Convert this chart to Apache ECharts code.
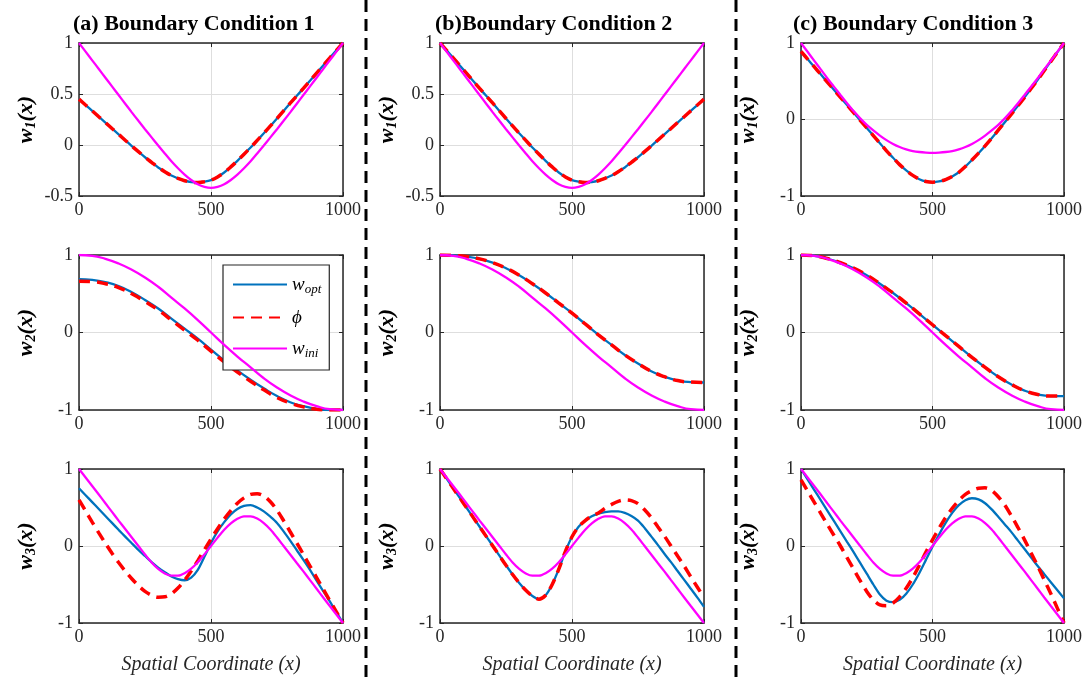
<!DOCTYPE html>
<html>
<head>
<meta charset="utf-8">
<script src="https://cdn.jsdelivr.net/npm/echarts@6/dist/echarts.min.js"></script>
<style>
  html, body { margin: 0; padding: 0; background: #fff; }
  #chart { width: 1090px; height: 684px; }
</style>
</head>
<body>
<div id="chart"></div>
<script>
// Spatial coordinate samples: fine grid for w1 and w3, coarse grid for w2
const xsFine = [0, 25, 50, 75, 100, 125, 150, 175, 200, 225, 250, 275, 300, 325, 350, 375, 400, 425, 450, 475, 500,
  525, 550, 575, 600, 625, 650, 675, 700, 725, 750, 775, 800, 825, 850, 875, 900, 925, 950, 975, 1000];
const xsCoarse = [0, 50, 100, 150, 200, 250, 300, 350, 400, 450, 500, 550, 600, 650, 700, 750, 800, 850, 900, 950, 1000];
const xTicks = [0, 500, 1000];

// Row 1: w1(x)
const optW1A = [0.45, 0.392, 0.335, 0.277, 0.22, 0.162, 0.105, 0.047, -0.01, -0.065, -0.12, -0.17, -0.22, -0.262, -0.30, -0.328, -0.35, -0.364, -0.368, -0.36, -0.345,
  -0.313, -0.27, -0.215, -0.155, -0.09, -0.025, 0.045, 0.115, 0.187, 0.26, 0.335, 0.41, 0.482, 0.555, 0.63, 0.705, 0.78, 0.855, 0.928, 1.0];
const phiW1A = [0.45, 0.392, 0.335, 0.277, 0.22, 0.162, 0.105, 0.047, -0.01, -0.065, -0.12, -0.17, -0.22, -0.262, -0.30, -0.328, -0.35, -0.364, -0.368, -0.36, -0.345,
  -0.313, -0.27, -0.215, -0.155, -0.09, -0.025, 0.045, 0.115, 0.187, 0.26, 0.335, 0.41, 0.482, 0.555, 0.63, 0.705, 0.78, 0.855, 0.928, 1.0];
const optW1B = [1.0, 0.928, 0.855, 0.78, 0.705, 0.63, 0.555, 0.482, 0.41, 0.335, 0.26, 0.187, 0.115, 0.045, -0.025, -0.09, -0.155, -0.215, -0.27, -0.313, -0.345,
  -0.36, -0.368, -0.364, -0.35, -0.328, -0.30, -0.262, -0.22, -0.17, -0.12, -0.065, -0.01, 0.047, 0.105, 0.162, 0.22, 0.277, 0.335, 0.392, 0.45];
const phiW1B = [1.0, 0.928, 0.855, 0.78, 0.705, 0.63, 0.555, 0.482, 0.41, 0.335, 0.26, 0.187, 0.115, 0.045, -0.025, -0.09, -0.155, -0.215, -0.27, -0.313, -0.345,
  -0.36, -0.368, -0.364, -0.35, -0.328, -0.30, -0.262, -0.22, -0.17, -0.12, -0.065, -0.01, 0.047, 0.105, 0.162, 0.22, 0.277, 0.335, 0.392, 0.45];
const iniW1AB = [1.0, 0.915, 0.83, 0.745, 0.66, 0.575, 0.49, 0.405, 0.32, 0.237, 0.155, 0.075, -0.005, -0.083, -0.16, -0.228, -0.29, -0.343, -0.385, -0.41, -0.42,
  -0.41, -0.385, -0.343, -0.29, -0.228, -0.16, -0.083, -0.005, 0.075, 0.155, 0.237, 0.32, 0.405, 0.49, 0.575, 0.66, 0.745, 0.83, 0.915, 1.0];
const optW1C = [0.89, 0.79, 0.69, 0.59, 0.49, 0.39, 0.29, 0.19, 0.09, -0.01, -0.11, -0.21, -0.31, -0.41, -0.50, -0.59, -0.665, -0.73, -0.78, -0.81, -0.82,
  -0.81, -0.785, -0.745, -0.69, -0.615, -0.53, -0.44, -0.345, -0.245, -0.14, -0.035, 0.07, 0.18, 0.29, 0.405, 0.52, 0.64, 0.76, 0.88, 1.0];
const phiW1C = [0.89, 0.79, 0.69, 0.59, 0.49, 0.39, 0.29, 0.19, 0.09, -0.01, -0.11, -0.21, -0.31, -0.41, -0.50, -0.59, -0.665, -0.73, -0.78, -0.81, -0.82,
  -0.81, -0.785, -0.745, -0.69, -0.615, -0.53, -0.44, -0.345, -0.245, -0.14, -0.035, 0.07, 0.18, 0.29, 0.405, 0.52, 0.64, 0.76, 0.88, 1.0];
const iniW1C = [1.0, 0.885, 0.77, 0.655, 0.54, 0.43, 0.32, 0.213, 0.11, 0.015, -0.07, -0.143, -0.21, -0.27, -0.32, -0.36, -0.39, -0.412, -0.425, -0.432, -0.435,
  -0.432, -0.425, -0.412, -0.39, -0.36, -0.32, -0.27, -0.21, -0.143, -0.07, 0.015, 0.11, 0.213, 0.32, 0.43, 0.54, 0.655, 0.77, 0.885, 1.0];

// Row 2: w2(x)
const optW2A = [0.69, 0.68, 0.65, 0.60, 0.52, 0.42, 0.31, 0.18, 0.05, -0.08, -0.22, -0.36, -0.49, -0.61, -0.72, -0.82, -0.90, -0.95, -0.985, -1.0, -1.0];
const phiW2A = [0.66, 0.655, 0.63, 0.58, 0.50, 0.40, 0.29, 0.16, 0.03, -0.10, -0.24, -0.38, -0.51, -0.63, -0.74, -0.84, -0.91, -0.96, -0.99, -1.0, -1.0];
const optW2B = [1.0, 0.995, 0.98, 0.95, 0.90, 0.83, 0.74, 0.63, 0.51, 0.38, 0.25, 0.11, -0.03, -0.16, -0.29, -0.40, -0.50, -0.57, -0.62, -0.64, -0.645];
const phiW2B = [1.0, 0.995, 0.98, 0.95, 0.90, 0.83, 0.74, 0.63, 0.51, 0.38, 0.25, 0.11, -0.03, -0.16, -0.29, -0.40, -0.50, -0.57, -0.62, -0.64, -0.645];
const optW2C = [1.0, 0.99, 0.955, 0.90, 0.83, 0.74, 0.63, 0.51, 0.38, 0.24, 0.10, -0.04, -0.18, -0.32, -0.45, -0.57, -0.67, -0.75, -0.80, -0.82, -0.82];
const phiW2C = [1.0, 0.99, 0.955, 0.90, 0.83, 0.74, 0.63, 0.51, 0.38, 0.24, 0.10, -0.04, -0.18, -0.32, -0.45, -0.57, -0.67, -0.75, -0.80, -0.82, -0.82];
const iniW2 = [1.0, 0.99, 0.95, 0.89, 0.81, 0.71, 0.59, 0.45, 0.31, 0.16, 0.0, -0.16, -0.31, -0.45, -0.59, -0.71, -0.81, -0.89, -0.95, -0.99, -1.0];

// Row 3: w3(x)
const optW3A = [0.75, 0.66, 0.57, 0.48, 0.39, 0.30, 0.21, 0.122, 0.035, -0.05, -0.13, -0.21, -0.28, -0.34, -0.395, -0.43, -0.445, -0.41, -0.31, -0.14, 0.04,
  0.19, 0.31, 0.41, 0.48, 0.52, 0.53, 0.50, 0.45, 0.38, 0.30, 0.19, 0.07, -0.055, -0.18, -0.31, -0.45, -0.585, -0.72, -0.86, -1.0];
const phiW3A = [0.60, 0.455, 0.31, 0.17, 0.035, -0.095, -0.215, -0.325, -0.425, -0.515, -0.59, -0.64, -0.665, -0.66, -0.62, -0.545, -0.445, -0.325, -0.19, -0.05, 0.09,
  0.225, 0.35, 0.46, 0.555, 0.625, 0.67, 0.68, 0.65, 0.575, 0.465, 0.33, 0.185, 0.04, -0.11, -0.26, -0.41, -0.56, -0.71, -0.855, -1.0];
const optW3B = [1.0, 0.875, 0.75, 0.625, 0.50, 0.375, 0.25, 0.125, 0.0, -0.125, -0.25, -0.37, -0.48, -0.575, -0.65, -0.69, -0.64, -0.50, -0.30, -0.07, 0.12,
  0.25, 0.33, 0.385, 0.42, 0.44, 0.45, 0.45, 0.43, 0.39, 0.33, 0.235, 0.125, 0.015, -0.10, -0.21, -0.325, -0.44, -0.555, -0.67, -0.79];
const phiW3B = [1.0, 0.875, 0.75, 0.625, 0.50, 0.375, 0.25, 0.125, 0.0, -0.125, -0.25, -0.37, -0.48, -0.575, -0.65, -0.69, -0.64, -0.50, -0.30, -0.07, 0.12,
  0.25, 0.33, 0.39, 0.43, 0.49, 0.54, 0.58, 0.60, 0.59, 0.55, 0.47, 0.37, 0.25, 0.13, 0.0, -0.13, -0.26, -0.40, -0.535, -0.67];
const optW3C = [1.0, 0.865, 0.73, 0.595, 0.46, 0.325, 0.19, 0.055, -0.08, -0.22, -0.36, -0.50, -0.63, -0.71, -0.73, -0.70, -0.62, -0.50, -0.35, -0.18, -0.01,
  0.15, 0.30, 0.43, 0.53, 0.595, 0.62, 0.605, 0.555, 0.475, 0.38, 0.28, 0.18, 0.07, -0.04, -0.15, -0.26, -0.365, -0.47, -0.575, -0.68];
const phiW3C = [0.86, 0.715, 0.57, 0.425, 0.28, 0.14, 0.0, -0.15, -0.30, -0.45, -0.59, -0.70, -0.765, -0.775, -0.74, -0.66, -0.55, -0.41, -0.25, -0.08, 0.08,
  0.23, 0.37, 0.49, 0.59, 0.67, 0.72, 0.75, 0.755, 0.72, 0.64, 0.53, 0.39, 0.24, 0.08, -0.09, -0.26, -0.44, -0.62, -0.81, -1.0];
const iniW3 = [1.0, 0.89, 0.78, 0.668, 0.555, 0.443, 0.33, 0.22, 0.11, 0.0, -0.11, -0.214, -0.297, -0.356, -0.386, -0.386, -0.354, -0.294, -0.211, -0.109, 0.0,
  0.109, 0.211, 0.294, 0.354, 0.386, 0.386, 0.356, 0.297, 0.214, 0.11, 0.0, -0.11, -0.22, -0.33, -0.443, -0.555, -0.668, -0.78, -0.89, -1.0];

// Y tick labels
const yTicksHalf = [-0.5, 0, 0.5, 1];
const yTicksUnit = [-1, 0, 1];

// Column titles
const colTags = ['(a)', '(b)', '(c)'];
const colTitles = ['Boundary Condition 1', 'Boundary Condition 2', 'Boundary Condition 3'];
const colTagGap = [' ', '', ' '];

const seriesNames = ['w_opt', 'phi', 'w_ini'];
const xAxisTitle = 'Spatial Coordinate (x)';

// panel grid: [row][col] -> [x samples, w_opt, phi, w_ini, y ticks]
const panelData = [
  [[xsFine, optW1A, phiW1A, iniW1AB, yTicksHalf], [xsFine, optW1B, phiW1B, iniW1AB, yTicksHalf], [xsFine, optW1C, phiW1C, iniW1C, yTicksUnit]],
  [[xsCoarse, optW2A, phiW2A, iniW2, yTicksUnit], [xsCoarse, optW2B, phiW2B, iniW2, yTicksUnit], [xsCoarse, optW2C, phiW2C, iniW2, yTicksUnit]],
  [[xsFine, optW3A, phiW3A, iniW3, yTicksUnit], [xsFine, optW3B, phiW3B, iniW3, yTicksUnit], [xsFine, optW3C, phiW3C, iniW3, yTicksUnit]]
];

// layout of the plot boxes
const colLeft = [79, 440, 801];
const colWidth = [264, 264, 263];
const rowTop = [43, 255, 469];
const rowHeight = [153, 155, 154];

const SERIF = "'Liberation Serif', 'Times New Roman', serif";
const AX = '#262626';
const COLORS = ['#0072BD', '#FF0000', '#FF00FF'];

const grid = [], xAxis = [], yAxis = [], series = [], title = [];
const plainNumber = v => String(v);

for (let r = 0; r < 3; r++) {
  for (let c = 0; c < 3; c++) {
    const gi = grid.length;
    const [xs, opt, phi, ini, yt] = panelData[r][c];
    grid.push({ left: colLeft[c], top: rowTop[r], width: colWidth[c], height: rowHeight[r], containLabel: false });

    const tickStyle = { show: true, inside: true, length: 4, lineStyle: { color: AX, width: 1 } };
    const lineStyle = { show: true, onZero: false, lineStyle: { color: AX, width: 1.5 } };

    xAxis.push({
      type: 'value', gridIndex: gi, position: 'bottom',
      min: xTicks[0], max: xTicks[xTicks.length - 1], interval: xTicks[1] - xTicks[0],
      axisLine: lineStyle, axisTick: tickStyle,
      axisLabel: { color: AX, fontFamily: SERIF, fontSize: 18, margin: 5, formatter: plainNumber },
      splitLine: { show: true, lineStyle: { color: '#dedede', width: 1 } },
      name: r === 2 ? xAxisTitle : '', nameLocation: 'middle', nameGap: 32,
      nameTextStyle: { fontFamily: SERIF, fontStyle: 'italic', fontSize: 20, color: AX }
    });
    xAxis.push({
      type: 'value', gridIndex: gi, position: 'top',
      min: xTicks[0], max: xTicks[xTicks.length - 1], interval: xTicks[1] - xTicks[0],
      axisLine: lineStyle, axisTick: tickStyle, axisLabel: { show: false }, splitLine: { show: false }
    });

    const ymin = yt[0], ymax = yt[yt.length - 1], yint = yt[1] - yt[0];
    yAxis.push({
      type: 'value', gridIndex: gi, position: 'left',
      min: ymin, max: ymax, interval: yint,
      axisLine: lineStyle, axisTick: tickStyle,
      axisLabel: { color: AX, fontFamily: SERIF, fontSize: 18, margin: 6, formatter: plainNumber },
      splitLine: { show: true, lineStyle: { color: '#dedede', width: 1 } },
      name: '{w|w}{s|' + (r + 1) + '}{w|(x)}', nameLocation: 'middle', nameRotate: 90, nameGap: 41,
      nameTextStyle: {
        rich: {
          w: { fontFamily: SERIF, fontSize: 22, fontWeight: 'bold', fontStyle: 'italic', color: '#000' },
          s: { fontFamily: SERIF, fontSize: 14, fontWeight: 'bold', fontStyle: 'italic', color: '#000', padding: [10, 0, 0, 0] }
        }
      }
    });
    yAxis.push({
      type: 'value', gridIndex: gi, position: 'right',
      min: ymin, max: ymax, interval: yint,
      axisLine: lineStyle, axisTick: tickStyle, axisLabel: { show: false }, splitLine: { show: false }
    });

    const xi = gi * 2, yi = gi * 2;
    [opt, phi, ini].forEach((vals, k) => {
      series.push({
        name: seriesNames[k], type: 'line', xAxisIndex: xi, yAxisIndex: yi,
        data: xs.map((x, i) => [x, vals[i]]),
        smooth: xs === xsFine ? 0.3 : 0.5, symbol: 'none', z: 2 + k,
        lineStyle: k === 1
          ? { color: COLORS[k], width: 3.5, type: [11, 7] }
          : { color: COLORS[k], width: 2.3 },
        itemStyle: { color: COLORS[k] }
      });
    });
  }
}

const titleLeft = [73, 435, 793];
for (let c = 0; c < 3; c++) {
  title.push({
    left: titleLeft[c], top: 13, padding: 0,
    text: '{n|' + colTags[c] + '}' + colTagGap[c] + '{b|' + colTitles[c] + '}',
    textStyle: {
      fontFamily: SERIF, fontSize: 22, color: '#000',
      rich: {
        n: { fontFamily: SERIF, fontSize: 22, color: '#000' },
        b: { fontFamily: SERIF, fontSize: 22, fontWeight: 'bold', color: '#000' }
      }
    }
  });
}

const legendLabels = { w_opt: '{w|w}{s|opt}', phi: '{p|\u03D5}', w_ini: '{w|w}{s|ini}' };

const option = {
  backgroundColor: '#fff',
  animation: false,
  title,
  grid, xAxis, yAxis, series,
  legend: {
    data: seriesNames,
    orient: 'vertical',
    left: 223, top: 265,
    padding: [10, 8, 10, 9],
    itemWidth: 54, itemHeight: 14, itemGap: 12,
    backgroundColor: '#fff', borderColor: AX, borderWidth: 1.2,
    itemStyle: { color: 'rgba(0,0,0,0)', borderColor: 'rgba(0,0,0,0)', borderWidth: 0, opacity: 0 },
    formatter: name => legendLabels[name],
    textStyle: {
      fontFamily: SERIF, fontStyle: 'italic', fontSize: 19, color: '#000',
      rich: {
        w: { fontFamily: SERIF, fontStyle: 'italic', fontSize: 19, color: '#000' },
        s: { fontFamily: SERIF, fontStyle: 'italic', fontSize: 13, color: '#000', padding: [10, 0, 0, 0] },
        p: { fontFamily: SERIF, fontStyle: 'italic', fontSize: 19, color: '#000' }
      }
    }
  },
  graphic: [
    { type: 'line', z: 100, shape: { x1: 366, y1: 0, x2: 366, y2: 684 }, style: { stroke: '#000', lineWidth: 3, lineDash: [12, 7] } },
    { type: 'line', z: 100, shape: { x1: 736, y1: 0, x2: 736, y2: 684 }, style: { stroke: '#000', lineWidth: 3, lineDash: [12, 7] } }
  ]
};

const chart = echarts.init(document.getElementById('chart'), null, { renderer: 'canvas' });
chart.setOption(option);
</script>
</body>
</html>
